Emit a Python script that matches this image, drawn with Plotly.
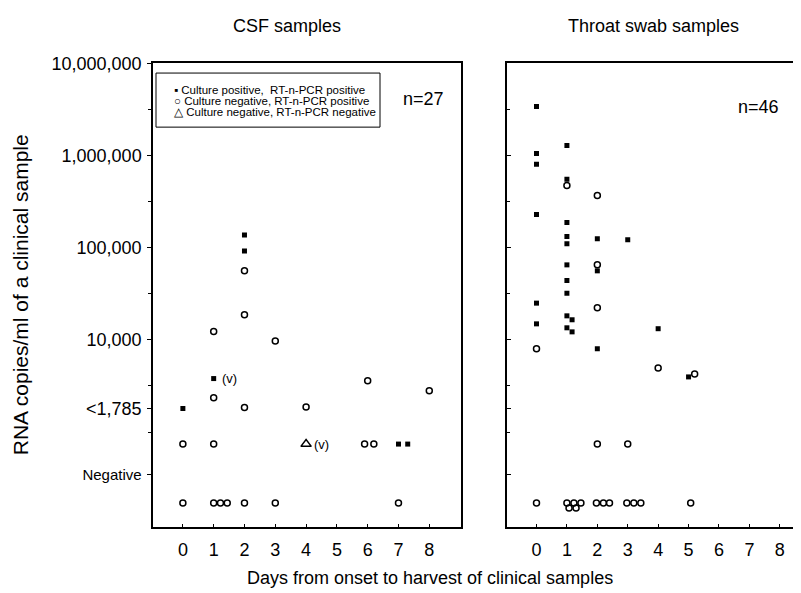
import math
import plotly.graph_objects as go

# plotting levels for samples that were not quantified
LOD = 1785          # "<1,785" cut-off line
NEG_LINE = 350      # "Negative" cut-off line
BELOW = 740         # detected but below 1,785 copies/ml
NEG = 170           # RT-n-PCR negative

# ---- CSF samples (n=27) ----
csf_pos_days = [2, 2, 1, 0, 7, 7.3]
csf_pos_copies = [137000, 92000, 3800, 1800, BELOW, BELOW]

csf_neg_days = [2, 2, 1, 3, 6, 1, 2, 4, 8,
                0, 1, 5.9, 6.2,
                0, 1, 1.22, 1.44, 2, 3, 7]
csf_neg_copies = [56000, 18700, 12300, 9700, 3600, 2350, 1850, 1870, 2800,
                  BELOW, BELOW, BELOW, BELOW,
                  NEG, NEG, NEG, NEG, NEG, NEG, NEG]

csf_negneg_days = [4]
csf_negneg_copies = [BELOW]

# ---- Throat swab samples (n=46) ----
thr_pos_days = [0, 1, 0, 0, 1, 0, 1, 1, 1, 2, 3, 1,
                2, 1, 1, 0, 1, 1.17, 0, 1, 1.17, 4, 2, 5]
thr_pos_copies = [3400000, 1285000, 1050000, 800000, 550000, 228000, 187000,
                  132000, 110000, 125000, 122000, 65000, 56000, 44000, 32000,
                  25000, 18200, 16500, 14900, 13500, 12200, 13200, 8000, 3960]

thr_neg_days = [1, 2, 2, 2, 0, 4, 5.2,
                2, 3,
                0, 1, 1.23, 1.46, 1.07, 1.3, 1.97, 2.2, 2.4, 2.97, 3.2, 3.43, 5.07]
thr_neg_copies = [472000, 367000, 65000, 22300, 8000, 4960, 4270,
                  BELOW, BELOW,
                  NEG, NEG, NEG, NEG, 150, 150, NEG, NEG, NEG, NEG, NEG, NEG, NEG]

day_ticks = list(range(9))
y_tickvals = [1e7, 1e6, 1e5, 1e4, LOD, NEG_LINE]
y_ticktext = ["10,000,000", "1,000,000", "100,000", "10,000", "<1,785",
              "<span style='font-size:15px'>Negative</span>"]

W, H = 801, 593
OFF = 8  # page body margin
FONT = "Liberation Sans, Arial, sans-serif"


def px(x):
    return (x - OFF) / W


def py(y):
    return 1 - (y - OFF) / H


square = dict(symbol="square", size=5, color="black")
circle = dict(symbol="circle-open", size=6, color="black", line=dict(width=1.5))
triangle = dict(symbol="triangle-up-open", size=9, color="black", line=dict(width=1.5))

fig = go.Figure()
fig.add_trace(go.Scatter(x=csf_pos_days, y=csf_pos_copies, mode="markers", marker=square, xaxis="x", yaxis="y"))
fig.add_trace(go.Scatter(x=csf_neg_days, y=csf_neg_copies, mode="markers", marker=circle, xaxis="x", yaxis="y"))
fig.add_trace(go.Scatter(x=csf_negneg_days, y=csf_negneg_copies, mode="markers", marker=triangle, xaxis="x", yaxis="y"))
fig.add_trace(go.Scatter(x=thr_pos_days, y=thr_pos_copies, mode="markers", marker=square, xaxis="x2", yaxis="y2"))
fig.add_trace(go.Scatter(x=thr_neg_days, y=thr_neg_copies, mode="markers", marker=circle, xaxis="x2", yaxis="y2"))

y_range = [1.967, 7.0]
y_dom = [py(526), py(54)]
minor_vals = [10 ** 6.5, 10 ** 5.5, 10 ** 4.5, 10 ** 3.5, 10 ** 3]
axis_common = dict(showgrid=False, zeroline=False, showline=True, linecolor="black", linewidth=1.5)

fig.update_layout(
    width=W, height=H,
    margin=dict(l=0, r=0, t=0, b=0),
    paper_bgcolor="white", plot_bgcolor="white",
    showlegend=False,
    font=dict(family=FONT, color="black", size=18),
    xaxis=dict(domain=[px(153), px(461)], range=[-0.97, 9.03], anchor="y",
               tickvals=day_ticks, ticks="inside", ticklen=4, tickcolor="black",
               ticklabelstandoff=5, mirror=True, tickfont=dict(size=18), **axis_common),
    yaxis=dict(domain=y_dom, type="log", range=y_range, anchor="x",
               tickvals=y_tickvals, ticktext=y_ticktext, ticks="outside", ticklen=4,
               tickcolor="black", ticklabelstandoff=2, mirror=True, tickfont=dict(size=18),
               minor=dict(tickvals=minor_vals, ticks="outside", ticklen=3, tickcolor="black"),
               **axis_common),
    xaxis2=dict(domain=[px(507), 1], range=[-0.97, 8.96], anchor="y2",
                tickvals=day_ticks, ticks="inside", ticklen=4, tickcolor="black",
                ticklabelstandoff=5, mirror=True, tickfont=dict(size=18), **axis_common),
    yaxis2=dict(domain=y_dom, type="log", range=y_range, anchor="x2",
                tickvals=y_tickvals, showticklabels=False, ticks="inside", ticklen=4,
                tickcolor="black",
                minor=dict(tickvals=minor_vals, ticks="inside", ticklen=3, tickcolor="black"),
                **axis_common),
)

# cut-off lines
for xr, yr in [("x domain", "y"), ("x2 domain", "y2")]:
    for level in [LOD, NEG_LINE]:
        fig.add_shape(type="line", xref=xr, yref=yr, x0=0, x1=1,
                      y0=math.log10(level), y1=math.log10(level),
                      line=dict(color="black", width=1, dash="dash"))

# legend box
fig.add_shape(type="rect", xref="paper", yref="paper",
              x0=px(156), x1=px(380), y0=py(119), y1=py(64),
              line=dict(color="black", width=1), fillcolor="white", layer="below")
legend_rows = ["▪ Culture positive,  RT-n-PCR positive",
               "○ Culture negative, RT-n-PCR positive",
               "△ Culture negative, RT-n-PCR negative"]
for i, t in enumerate(legend_rows):
    fig.add_annotation(text=t, xref="paper", yref="paper", x=px(172), y=py(81 + 11.5 * i),
                       xanchor="left", yanchor="middle", showarrow=False,
                       font=dict(size=11.5, family=FONT))

# virus isolate marks
fig.add_annotation(text="(v)", x=1.2, y=math.log10(3800), xref="x", yref="y",
                   xanchor="left", yanchor="middle", showarrow=False, font=dict(size=13))
fig.add_annotation(text="(v)", x=4.2, y=math.log10(BELOW), xref="x", yref="y",
                   xanchor="left", yanchor="middle", showarrow=False, font=dict(size=13))


def label(text, x, y, size=18, **kw):
    fig.add_annotation(text=text, xref="paper", yref="paper", x=px(x), y=py(y),
                       xanchor="center", yanchor="middle", showarrow=False,
                       font=dict(size=size), **kw)


# n counts
label("n=27", 423, 90)
label("n=46", 758, 99)

# panel titles
label("CSF samples", 287, 16)
label("Throat swab samples", 653, 16)

# axis titles
label("RNA copies/ml of a clinical sample", 20, 290, size=21, textangle=-90)
label("Days from onset to harvest of clinical samples", 430, 578)

fig.write_html("out.html")
